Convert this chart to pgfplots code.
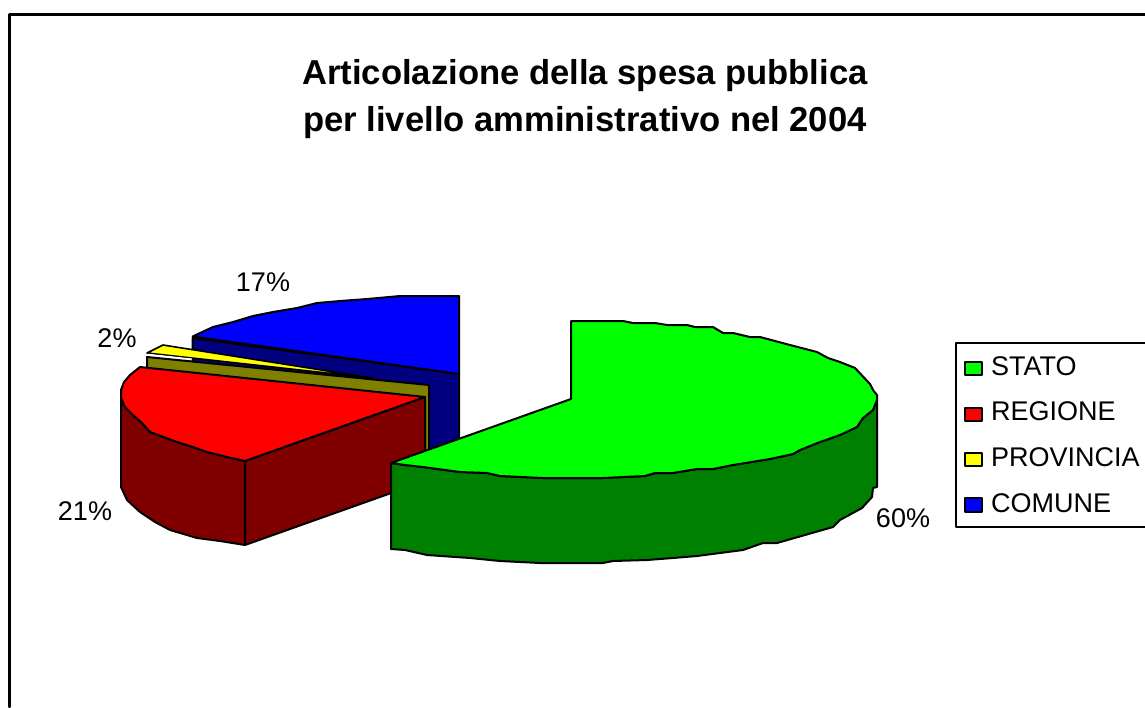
\documentclass[border=0pt]{standalone}
\usepackage{fontspec}
\setmainfont{Liberation Sans}
\usepackage{pgfplots}
\pgfplotsset{compat=1.18}
\definecolor{cgreen}{RGB}{0,255,0}
\definecolor{dgreen}{RGB}{0,128,0}
\definecolor{cred}{RGB}{255,0,0}
\definecolor{dred}{RGB}{128,0,0}
\definecolor{cblue}{RGB}{0,0,255}
\definecolor{dblue}{RGB}{0,0,128}
\definecolor{cyel}{RGB}{255,255,0}
\definecolor{dyel}{RGB}{128,128,0}
\begin{document}
\begin{tikzpicture}[x=1pt,y=1pt]
\begin{axis}[
  scale only axis, width=1145pt, height=707pt,
  xmin=0, xmax=1145, ymin=0, ymax=707, y dir=reverse,
  hide axis, clip=true,
  every axis plot/.append style={line join=round, line cap=round},
]
% invisible page extent
\addplot[draw=none] coordinates {(0,0) (1145,707)};
% outer frame
\addplot[draw=black, line width=2.8pt] coordinates {(1145,14.5) (9.5,14.5) (9.5,707)};
% COMUNE side
\addplot[fill=dblue, draw=black, line width=2pt] coordinates {(192.7,338) (459,374) (459,465) (192.7,372)} --cycle;
% COMUNE top
\addplot[fill=cblue, draw=black, line width=2pt] coordinates {(192.7,336.5) (200,333) (213,327) (233,322) (253,316) (273,312) (297,308) (317,303) (340,301) (367,299) (400,296) (459,296) (459,374)} --cycle;
% PROVINCIA side
\addplot[fill=dyel, draw=black, line width=2pt] coordinates {(147,357) (429,385) (429,470) (147,380)} --cycle;
% PROVINCIA top
\addplot[fill=cyel, draw=black, line width=1.6pt] coordinates {(147,353) (163,345) (372,378)} --cycle;
\addplot[fill=white, draw=none] coordinates {(148,354.5) (192,359.5) (192,358.5) (148,353.8)} --cycle;
% REGIONE front face
\addplot[fill=dred, draw=black, line width=2pt] coordinates {(245,461) (425,397) (425,481) (245,545)} --cycle;
% REGIONE outer side
\addplot[fill=dred, draw=black, line width=2pt] coordinates {(121,398) (125,407) (133,415) (142,423) (150,432) (177,442) (193,447) (207,452) (227,457) (245,461) (245,545) (220,541) (197,538) (170,530) (155,522) (140,512) (127,500) (121,487)} --cycle;
% REGIONE top
\addplot[fill=cred, draw=black, line width=2pt] coordinates {(425,397) (245,461) (227,457) (207,452) (193,447) (177,442) (150,432) (142,423) (133,415) (125,407) (121,398) (121,390) (124,382) (130,375) (140,367)} --cycle;
% STATO side
\addplot[fill=dgreen, draw=black, line width=2pt] coordinates {(877,400) (873,410) (863,418) (857,427) (840,435) (820,442) (800,450) (793,454) (770,459) (733,465) (713,469) (697,469) (673,473) (655,473) (645,476) (603,478) (543,478) (500,476) (487,473) (460,472) (423,467) (405,465) (391,463) (391,549) (405,550) (427,555) (470,558) (500,561) (540,563) (603,563) (613,561) (647,560) (673,558) (697,556) (743,550) (763,543) (777,543) (833,527) (840,520) (862,508) (872,497) (873,488) (877,487)} --cycle;
% STATO top
\addplot[fill=cgreen, draw=black, line width=2pt] coordinates {(571,399) (571,321) (623,321) (633,323) (655,323) (667,325) (687,325) (695,327) (713,327) (723,333) (733,333) (750,337) (760,337) (790,345) (817,352) (828,358) (840,362) (855,368) (870,384) (873,390) (877,395) (877,400) (873,410) (863,418) (857,427) (840,435) (820,442) (800,450) (793,454) (770,459) (733,465) (713,469) (697,469) (673,473) (655,473) (645,476) (603,478) (543,478) (500,476) (487,473) (460,472) (423,467) (405,465) (391,463)} --cycle;
% legend
\addplot[draw=black, line width=2pt] coordinates {(1145,342.5) (955.5,342.5) (955.5,526.5) (1145,526.5)};
\addplot[fill=cgreen, draw=black, line width=1.6pt] coordinates {(965,362) (982,362) (982,375) (965,375)} --cycle;
\addplot[fill=cred, draw=black, line width=1.6pt] coordinates {(965,408) (982,408) (982,421) (965,421)} --cycle;
\addplot[fill=cyel, draw=black, line width=1.6pt] coordinates {(965,453) (982,453) (982,466) (965,466)} --cycle;
\addplot[fill=cblue, draw=black, line width=1.6pt] coordinates {(965,498) (982,498) (982,512) (965,512)} --cycle;
\end{axis}
\begin{axis}[
  scale only axis, width=1145pt, height=707pt,
  xmin=0, xmax=1145, ymin=0, ymax=707, y dir=reverse,
  hide axis, clip=false,
]
\addplot[draw=none] coordinates {(0,0) (1145,707)};
\node[font=\fontsize{34.6}{41}\selectfont\bfseries, align=center] at (axis cs:585,99.5) {Articolazione della spesa pubblica\\[6pt]per livello amministrativo nel 2004};
\node[font=\fontsize{27}{30}\selectfont] at (axis cs:263,282) {17\%};
\node[font=\fontsize{27}{30}\selectfont] at (axis cs:117,338) {2\%};
\node[font=\fontsize{27}{30}\selectfont] at (axis cs:85,511) {21\%};
\node[font=\fontsize{27}{30}\selectfont] at (axis cs:903,518) {60\%};
\node[font=\fontsize{27}{30}\selectfont, anchor=base west, inner sep=0pt] at (axis cs:991,375) {STATO};
\node[font=\fontsize{27}{30}\selectfont, anchor=base west, inner sep=0pt] at (axis cs:991,420) {REGIONE};
\node[font=\fontsize{27}{30}\selectfont, anchor=base west, inner sep=0pt] at (axis cs:991,466) {PROVINCIA};
\node[font=\fontsize{27}{30}\selectfont, anchor=base west, inner sep=0pt] at (axis cs:991,512) {COMUNE};
\end{axis}
\end{tikzpicture}
\end{document}
